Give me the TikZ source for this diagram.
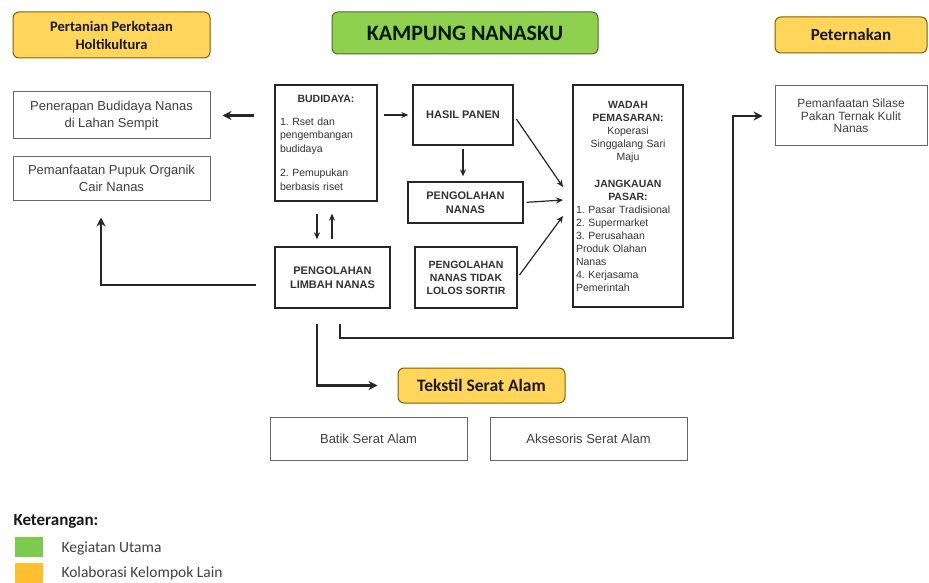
\documentclass[tikz,border=0pt]{standalone}
\usepackage{fontspec}
\setmainfont{Liberation Sans}
\newfontfamily\calibri{Carlito}
\usetikzlibrary{arrows.meta}

\definecolor{titlegreen}{HTML}{8FD14F}
\definecolor{titleedge}{HTML}{4E6B2A}
\definecolor{collabgold}{HTML}{FFD65A}
\definecolor{collabedge}{HTML}{7F6000}
\definecolor{legendorange}{HTML}{FFBF2E}
\definecolor{legendgreen}{HTML}{7DCB4E}

\begin{document}
\frenchspacing
\begin{tikzpicture}[
  x=1pt, y=-1pt,
  % Box styles
  mainbox/.style={rectangle, draw=black!85, line width=1.3pt, fill=white, inner sep=0pt, text=black!80, align=center, font=\fontsize{11}{13.5}\selectfont\bfseries},
  outbox/.style={rectangle, draw=black!60, line width=1pt, fill=white, inner sep=0pt, text=black!75, align=center, font=\fontsize{13}{16.5}\selectfont},
  collab/.style={rectangle, draw=collabedge, fill=collabgold, line width=1pt, rounded corners=6pt, inner sep=0pt, text=black!90, align=center},
  maintitle/.style={rectangle, draw=titleedge, fill=titlegreen, line width=1pt, rounded corners=6pt, inner sep=0pt, text=black!85!green!60!black, font=\calibri\bfseries\fontsize{22}{25}\selectfont},
  legendsq/.style={rectangle, inner sep=0pt, minimum width=28pt, minimum height=20pt},
  legendtext/.style={anchor=west, text=black!75, font=\calibri\fontsize{15.5}{18}\selectfont},
  % Arrow styles
  thinarrow/.style={-{Stealth[length=7pt,width=6pt]}, line width=1.2pt, black!85},
  thickarrow/.style={-{Stealth[length=9pt,width=9pt]}, line width=2.2pt, black!85}
]
\useasboundingbox (0,0) rectangle (929,583);

% Layer 1: Headers
\node[collab, minimum width=197pt, minimum height=46pt, font=\calibri\bfseries\fontsize{14.5}{18}\selectfont] (pertanian) at (111.5,35) {Pertanian Perkotaan\\Holtikultura};
\node[maintitle, minimum width=266pt, minimum height=42pt] (kampung) at (465,33) {KAMPUNG NANASKU};
\node[collab, minimum width=152pt, minimum height=36pt, font=\calibri\bfseries\fontsize{17}{20}\selectfont] (peternakan) at (851,35) {Peternakan};

% Layer 2: Left outcome boxes
\node[outbox, minimum width=197pt, minimum height=47pt] (penerapan) at (111.5,115.5) {Penerapan Budidaya Nanas\\di Lahan Sempit};
\node[outbox, minimum width=197pt, minimum height=43pt] (pupuk) at (111.5,178.5) {Pemanfaatan Pupuk Organik\\Cair Nanas};

% Layer 3: Main process boxes
\node[mainbox, minimum width=102pt, minimum height=116pt, text width=92pt, align=left, font=\fontsize{10.5}{13.5}\selectfont] (budidaya) at (326,143) {{\centering\bfseries BUDIDAYA:\par}\vspace{9pt}1. Rset dan\\pengembangan\\budidaya\par\vspace{11pt}2. Pemupukan\\berbasis riset};
\node[mainbox, minimum width=100pt, minimum height=60pt] (hasil) at (463,115) {HASIL PANEN};
\node[mainbox, minimum width=115pt, minimum height=41pt] (nanas) at (465.5,202.5) {PENGOLAHAN\\NANAS};
\node[mainbox, minimum width=102pt, minimum height=61pt, font=\fontsize{10.5}{13}\selectfont\bfseries] (sortir) at (466,277.5) {PENGOLAHAN\\NANAS TIDAK\\LOLOS SORTIR};
\node[mainbox, minimum width=115pt, minimum height=61pt] (limbah) at (332.5,277.5) {PENGOLAHAN\\LIMBAH NANAS};
\node[mainbox, minimum width=110pt, minimum height=222pt, text width=104pt, align=left, font=\fontsize{10.5}{13}\selectfont] (wadah) at (628,196) {{\centering\bfseries WADAH\\PEMASARAN:\\\mdseries Koperasi\\Singgalang Sari\\Maju\par}\vspace{14pt}{\centering\bfseries JANGKAUAN\\PASAR:\par}1. Pasar Tradisional\\2. Supermarket\\3. Perusahaan\\Produk Olahan\\Nanas\\4. Kerjasama\\Pemerintah};

% Layer 4: Right and bottom outcome boxes
\node[outbox, minimum width=152pt, minimum height=60pt, font=\fontsize{12}{12.5}\selectfont] (silase) at (851,116) {Pemanfaatan Silase\\Pakan Ternak Kulit\\Nanas};
\node[collab, minimum width=167pt, minimum height=35pt, font=\calibri\bfseries\fontsize{17.5}{20}\selectfont] (tekstil) at (481.5,385.5) {Tekstil Serat Alam};
\node[outbox, minimum width=197pt, minimum height=43pt] (batik) at (368.5,438.5) {Batik Serat Alam};
\node[outbox, minimum width=197pt, minimum height=43pt] (aksesoris) at (588.5,438.5) {Aksesoris Serat Alam};

% Layer 5: Helper coordinates for bends and arrow ends
\coordinate (in1) at (563,187);
\coordinate (in2) at (563,200);
\coordinate (in3) at (563,216);
\coordinate (dn) at (317,0);
\coordinate (up) at (332,0);
\coordinate (lp) at (101,285);
\coordinate (sl) at (340,0);
\coordinate (rt) at (733,338);

% Layer 6: Arrows around Budidaya
\draw[thickarrow, shorten <=20pt, shorten >=12pt] (budidaya.west |- penerapan) -- (penerapan.east);
\draw[thinarrow, shorten <=6pt, shorten >=4pt] (budidaya.east |- hasil) -- (hasil.west);
\draw[thinarrow, shorten <=3pt, shorten >=5pt] (hasil.south) -- (hasil.south |- nanas.north);
\draw[thinarrow, shorten <=12pt, shorten >=7pt] (budidaya.south -| dn) -- (limbah.north -| dn);
\draw[thinarrow, shorten <=7pt, shorten >=12pt] (limbah.north -| up) -- (budidaya.south -| up);

% Into Wadah
\draw[thinarrow, shorten <=5pt] (hasil.east) -- (in1);
\draw[thinarrow, shorten <=3pt] (nanas.east) -- (in2);
\draw[thinarrow, shorten <=3pt] (sortir.east) -- (in3);

% Layer 7: Arrows out of Limbah
\draw[thickarrow, shorten <=18pt, shorten >=17pt] (limbah.west |- lp) -- (lp) -- (lp |- pupuk.south);
\draw[thickarrow, shorten <=15pt, shorten >=20pt] (limbah.south -| dn) -- (dn |- tekstil) -- (tekstil.west);
\draw[thickarrow, shorten <=15pt, shorten >=12pt] (limbah.south -| sl) -- (sl |- rt) -- (rt) -- (rt |- silase.west) -- (silase.west);

% Layer 8: Legend
\node[anchor=west, text=black!90, font=\calibri\bfseries\fontsize{17}{20}\selectfont] (ket) at (10,521) {Keterangan:};
\node[legendsq, fill=legendgreen] (sqgreen) at (29,547) {};
\node[legendsq, fill=legendorange] (sqorange) at (29,573) {};
\node[legendtext] (utama) at (58,548) {Kegiatan Utama};
\node[legendtext] (kolab) at (58,573) {Kolaborasi Kelompok Lain};

\end{tikzpicture}
\end{document}
